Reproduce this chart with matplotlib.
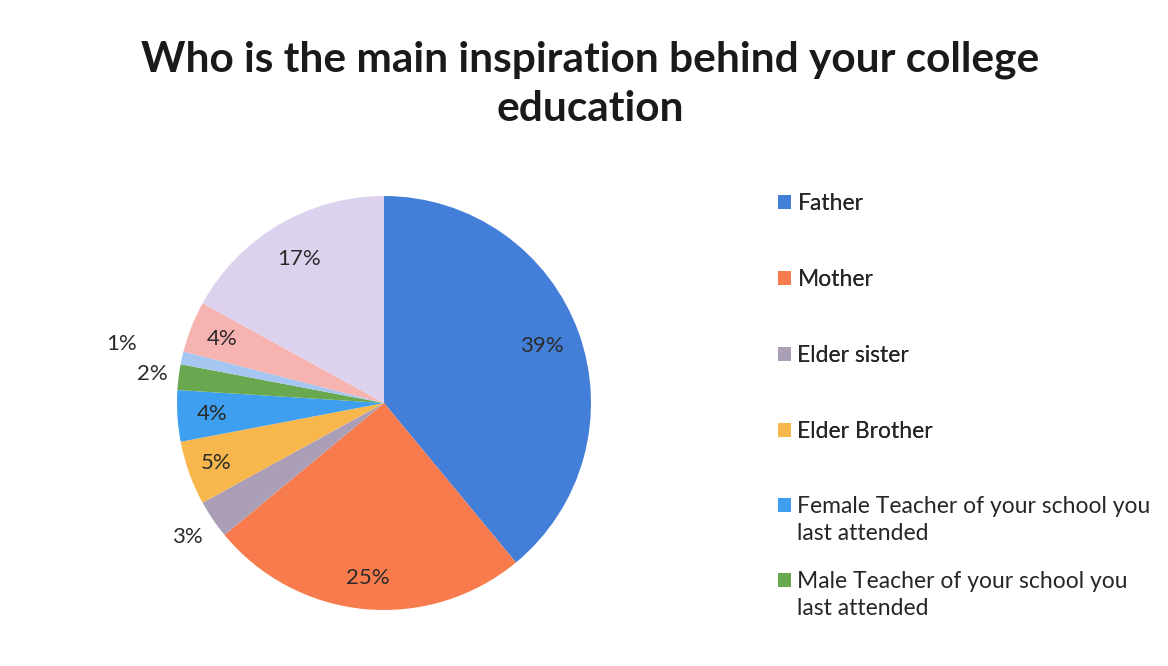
import numpy as np
import matplotlib
matplotlib.use("Agg")
import matplotlib.pyplot as plt
from matplotlib.patches import Patch

categories = ["Father", "Mother", "Elder sister", "Elder Brother",
              "Female Teacher of your school you\nlast attended",
              "Male Teacher of your school you\nlast attended",
              "Other (1%)", "Other (4%)", "Other (17%)"]
values = [39, 25, 3, 5, 4, 2, 1, 4, 17]
pct_labels = ["39%", "25%", "3%", "5%", "4%", "2%", "1%", "4%", "17%"]
legend_count = 6

colors = ["#437ed8", "#f77b4c", "#ab9fb8", "#f8b74c", "#3e9ff0",
          "#6aa84f", "#a6c6f2", "#f7b3b0", "#dcd2ee"]
label_dist = [0.81, 0.85, 1.15, 0.86, 0.83, 1.13, 1.3, 0.84, 0.81]

plt.rcParams['font.family'] = ['Lato', 'DejaVu Sans']

fig = plt.figure(figsize=(11.68, 6.66), dpi=100)
fig.patch.set_facecolor("white")

ax = fig.add_axes([177/1168, (666-610)/666, 414/1168, 414/666])
wedges, _ = ax.pie(values, colors=colors, startangle=90, counterclock=False,
                   radius=1.0, wedgeprops=dict(linewidth=0))
ax.set_xlim(-1, 1)
ax.set_ylim(-1, 1)
ax.set_aspect("equal")
ax.axis("off")

for w, lab, d in zip(wedges, pct_labels, label_dist):
    ang = np.deg2rad((w.theta1 + w.theta2) / 2)
    ax.text(d * np.cos(ang), d * np.sin(ang), lab, ha="center", va="center",
            fontsize=16, color="#2b2b2b", clip_on=False)

fig.text(0.505, 1 - 84/666, "Who is the main inspiration behind your college\neducation",
         ha="center", va="center", fontsize=30.5, fontweight="bold",
         color="#1a1a1a", linespacing=1.36)

legfs = 16.5
common = dict(frameon=False, fontsize=legfs, handlelength=0.55, handleheight=0.55,
              handletextpad=0.3, labelcolor="#262626", borderpad=0, borderaxespad=0)

h1 = [Patch(facecolor=colors[i], edgecolor="none") for i in range(4)]
leg1 = fig.legend(h1, categories[:4], loc="upper left",
                  bbox_to_anchor=(778/1168, 1 - 193/666), labelspacing=2.4, **common)

h2 = [Patch(facecolor=colors[i], edgecolor="none") for i in range(4, legend_count)]
leg2 = fig.legend(h2, categories[4:legend_count], loc="upper left",
                  bbox_to_anchor=(778/1168, 1 - 496/666), labelspacing=1.17, **common)
fig.add_artist(leg1)

for t in leg2.get_texts():
    t.set_linespacing(1.35)
# align the handle square with the first line of each two-line label
for hp in leg2.legend_handles:
    hp.set_y(hp.get_y() + 0.5 * 1.35 * legfs)

fig.savefig("out.png", dpi=100, facecolor="white")
